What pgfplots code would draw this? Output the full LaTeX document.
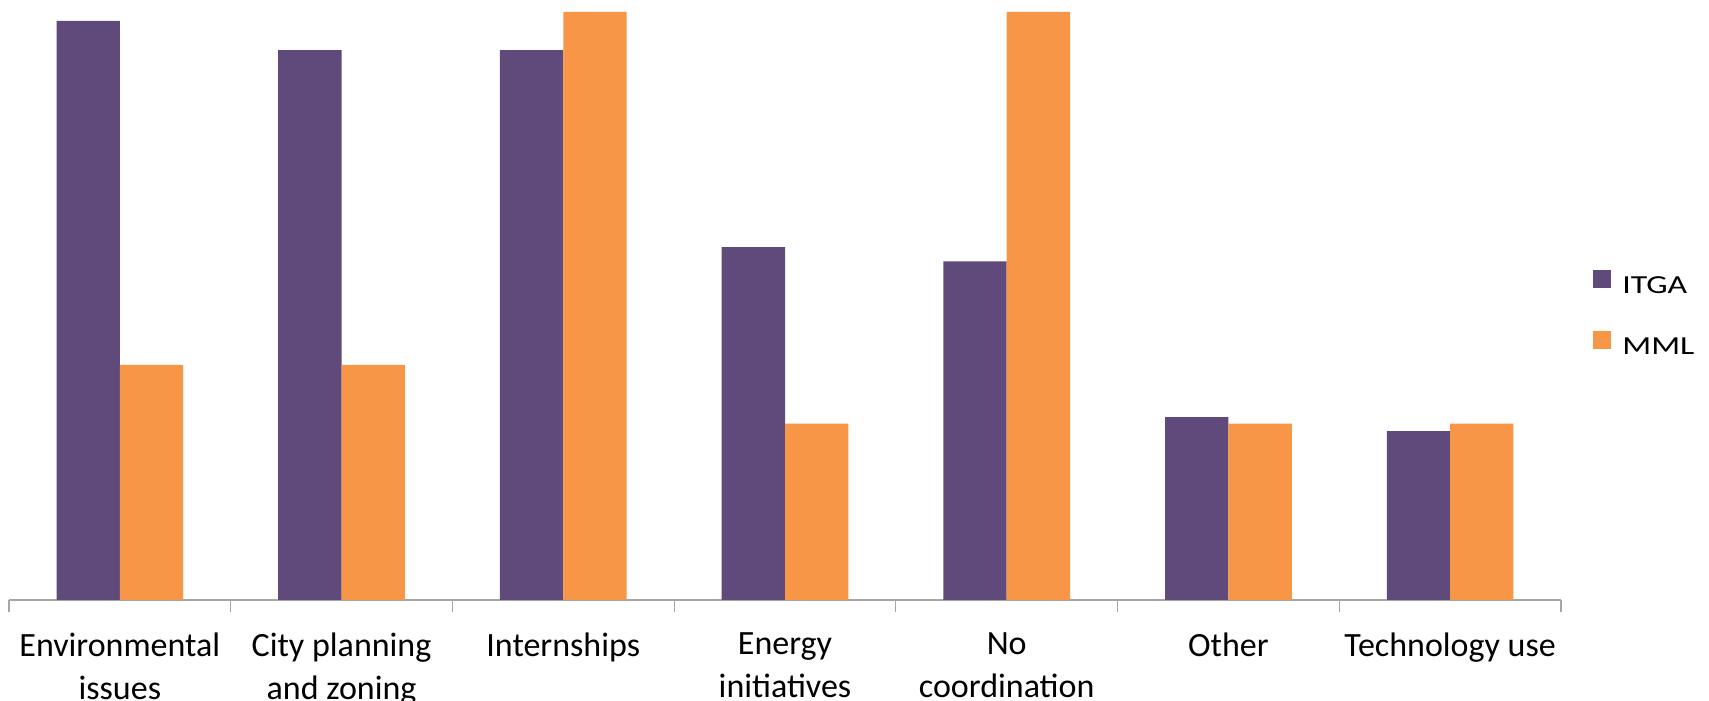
\documentclass[border=0pt]{standalone}
\usepackage{pgfplots}
\pgfplotsset{compat=1.18}
\usepackage{fontspec}
\setmainfont{Carlito}

\definecolor{itga}{HTML}{604A7B}
\definecolor{mml}{HTML}{F79646}
\definecolor{axisgray}{HTML}{A6A6A6}

\newcommand{\legtext}[1]{\scalebox{1.3}[1]{#1}}

\begin{document}
\begin{tikzpicture}
% page frame: 1709 x 701 units of 0.5pt, axis origin at (9,600) from top-left
\useasboundingbox (-4.5pt,-50.5pt) rectangle (850pt,300pt);
\begin{axis}[
  scale only axis,
  width=776pt, height=294pt,
  xmin=-0.5, xmax=6.5,
  ymin=0, ymax=10,
  axis y line=none,
  axis x line*=bottom,
  x axis line style={draw=axisgray, line width=1pt},
  xtick={0,...,6},
  major x tick style={draw=none},
  minor xtick={-0.5,0.5,...,6.5},
  minor x tick style={draw=axisgray, line width=0.6pt},
  minor tick length=6pt,
  tick align=outside,
  xticklabels={
    Environmental\\issues,
    City planning\\and zoning,
    Internships,
    Energy\\initiatives,
    No\\coordination,
    Other,
    Technology use},
  xticklabel style={align=center, anchor=north, inner sep=0pt, yshift=-12pt,
    font=\fontsize{17}{21.5}\selectfont, text=black},
  ybar=0pt,
  bar width=0.2857,
  legend style={
    at={(1.0206,0.487)}, anchor=west,
    draw=none, fill=none, inner sep=0pt,
    font=\fontsize{13}{15}\selectfont,
    row sep=17pt,
    nodes={inner sep=0pt},
    /tikz/every odd column/.append style={column sep=5.5pt},
  },
  legend cell align=left,
]
\addplot[fill=itga, draw=none, bar shift=-0.142857,
  legend image code/.code={\fill[itga] (0pt,-0.5pt) rectangle (9pt,8.5pt);}]
  coordinates {(0,9.85) (1,9.35) (2,9.35) (3,6.0) (4,5.76) (5,3.11) (6,2.87)};
\addplot[fill=mml, draw=none, bar shift=0.142857,
  legend image code/.code={\fill[mml] (0pt,-0.5pt) rectangle (9pt,8.5pt);}]
  coordinates {(0,4.0) (1,4.0) (2,10.0) (3,3.0) (4,10.0) (5,3.0) (6,3.0)};
\legend{\legtext{ITGA}, \legtext{MML}}
\end{axis}
\end{tikzpicture}
\end{document}
